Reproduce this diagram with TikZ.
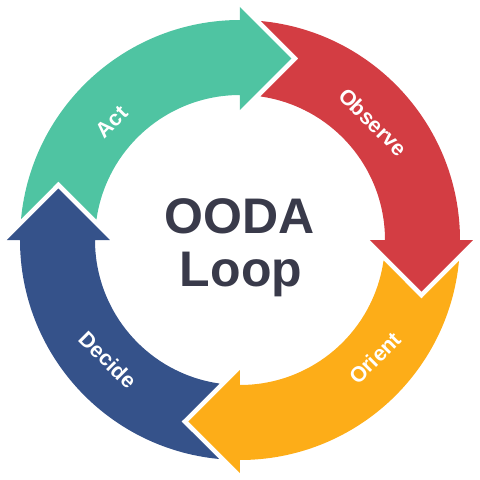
\documentclass[tikz,border=0pt]{standalone}
\usepackage{fontspec}
\setmainfont{Liberation Sans}
\definecolor{actgreen}{HTML}{4FC4A2}
\definecolor{obsred}{HTML}{D33D43}
\definecolor{orientorange}{HTML}{FDAD18}
\definecolor{decideblue}{HTML}{35528A}
\definecolor{titlegray}{HTML}{393A4A}
\tikzset{
  arrowshape/.pic={
    \fill[pic actions] (174.52:220) arc[start angle=174.52, end angle=90, radius=220]
      -- (0,233) -- (51.5,181.5) -- (0,130) -- (0,145)
      arc[start angle=90, end angle=171.86, radius=145]
      -- (-181.5,58.5) -- cycle;
  },
  steplabel/.style={text=white, inner sep=0pt, font=\bfseries\fontsize{21.5}{24}\selectfont},
  titletext/.style={text=titlegray, font=\bfseries\fontsize{50}{53}\selectfont, anchor=base}
}
\begin{document}
\begin{tikzpicture}[x=1pt,y=1pt]
\useasboundingbox (-240,-240) rectangle (240,240);
\pic[fill=actgreen] {arrowshape};
\pic[fill=obsred, rotate=-90] {arrowshape};
\pic[fill=orientorange, rotate=-180] {arrowshape};
\pic[fill=decideblue, rotate=-270] {arrowshape};
\node[steplabel, rotate=45] (act) at (-128,118) {Act};
\node[steplabel, rotate=-45] (observe) at (133,118) {Observe};
\node[steplabel, rotate=45] (orient) at (135,-118) {Orient};
\node[steplabel, rotate=-45] (decide) at (-132,-120) {Decide};
\node[titletext] (ooda) at (0,7) {OODA};
\node[titletext] (loop) at (1,-46) {Loop};
\end{tikzpicture}
\end{document}
